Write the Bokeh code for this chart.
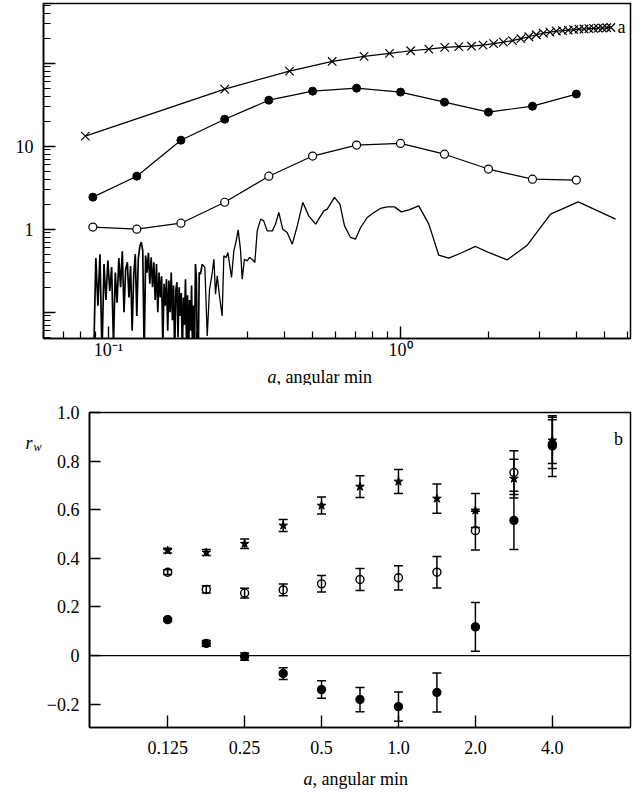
from bokeh.plotting import figure
from bokeh.layouts import column
from bokeh.models import (FixedTicker, Label, Whisker, TeeHead, ColumnDataSource,
                          Span, Range1d)
from bokeh.core.properties import value
from bokeh.embed import file_html
from bokeh.resources import INLINE

FONT = "Liberation Serif"

# ---------------- Panel a data ----------------
a_x = [0.0884, 0.125, 0.177, 0.25, 0.354, 0.5, 0.707, 1.0, 1.414, 2.0, 2.83, 4.0]
filled_a = [2.43, 4.35, 11.8, 21.1, 35.8, 46.0, 50.0, 44.8, 33.9, 25.7, 30.3, 42.4]
open_a = [1.06, 1.0, 1.18, 2.11, 4.35, 7.6, 10.3, 10.8, 8.0, 5.3, 4.0, 3.9]

cross_x = [0.0833, 0.25, 0.4167, 0.5833, 0.75, 0.9167, 1.0833, 1.25, 1.4167, 1.5833,
           1.75, 1.9167, 2.0833, 2.25, 2.4167, 2.5833, 2.75, 2.9167, 3.0833, 3.25,
           3.4167, 3.5833, 3.75, 3.9167, 4.0833, 4.25, 4.4167, 4.5833, 4.75, 4.9167,
           5.0833, 5.25]
cross_y = [13.2, 48.6, 80.2, 104.8, 120.5, 131, 141, 147.5, 154.7, 158,
           160, 165, 172, 179, 187, 197, 208, 220, 230, 236,
           243, 246, 250, 253, 257, 258, 261, 262, 264, 265,
           267, 269]

noise_x = [0.0890, 0.0905, 0.0920, 0.0935, 0.0950, 0.0965, 0.0980, 0.0995, 0.1010, 0.1025,
           0.1040, 0.1055, 0.1070, 0.1085, 0.1100, 0.1115, 0.1130, 0.1145, 0.1160, 0.1175,
           0.1190, 0.1205, 0.1220, 0.1235, 0.1250, 0.1265, 0.1280, 0.1295, 0.1310, 0.1325,
           0.1340, 0.1355, 0.1370, 0.1385, 0.1400, 0.1415, 0.1430, 0.1445, 0.1460, 0.1475,
           0.1490, 0.1505, 0.1520, 0.1535, 0.1550, 0.1565, 0.1580, 0.1595, 0.1610, 0.1625,
           0.1640, 0.1655, 0.1670, 0.1685, 0.1700, 0.1715, 0.1730, 0.1745, 0.1760, 0.1775,
           0.1790, 0.1805, 0.1820, 0.1835, 0.1850, 0.1865, 0.1880, 0.1895, 0.1910, 0.1925,
           0.1940, 0.1955, 0.1970, 0.1985, 0.2000, 0.2015, 0.2030, 0.2045,
           0.2065, 0.2094, 0.2138, 0.2178, 0.2218, 0.2254, 0.2296, 0.2325, 0.2357, 0.2399,
           0.2450, 0.2483, 0.2530, 0.2564, 0.2638, 0.2687, 0.2737, 0.2780, 0.2830, 0.2870,
           0.2920, 0.2985, 0.3040, 0.3105, 0.3170, 0.3230, 0.3320, 0.3400, 0.3495, 0.3640,
           0.3730, 0.3830, 0.3950, 0.4090, 0.4260, 0.4430, 0.4630, 0.4850, 0.5120, 0.5460,
           0.5610, 0.5940, 0.6200, 0.6430, 0.6740, 0.7010, 0.7300, 0.7690, 0.8100, 0.8540,
           0.9010, 0.9540, 1.006, 1.068, 1.155, 1.250, 1.352, 1.463, 1.626, 1.806,
           1.981, 2.319, 2.716, 3.264, 4.060, 5.450]
noise_y = [0.03, 0.45, 0.12, 0.50, 0.03, 0.38, 0.14, 0.42, 0.18, 0.35,
           0.04, 0.30, 0.13, 0.45, 0.20, 0.54, 0.10, 0.33, 0.40, 0.15,
           0.36, 0.06, 0.28, 0.50, 0.09, 0.44, 0.62, 0.70, 0.55, 0.03,
           0.48, 0.30, 0.52, 0.22, 0.46, 0.20, 0.40, 0.14, 0.38, 0.10,
           0.30, 0.15, 0.27, 0.04, 0.22, 0.12, 0.25, 0.06, 0.24, 0.10,
           0.30, 0.08, 0.21, 0.03, 0.18, 0.23, 0.05, 0.20, 0.09, 0.17,
           0.03, 0.15, 0.07, 0.25, 0.04, 0.16, 0.03, 0.14, 0.06, 0.21,
           0.03, 0.12, 0.03, 0.38, 0.25, 0.03, 0.03, 0.30,
           0.287, 0.379, 0.346, 0.0518, 0.189, 0.262, 0.435, 0.165, 0.274, 0.157,
           0.090, 0.477, 0.456, 0.524, 0.262, 0.548, 0.723, 0.98, 0.574, 0.25,
           0.435, 0.415, 0.456, 0.435, 0.397, 0.954, 1.32, 1.26, 0.954, 0.954,
           1.149, 1.589, 1.0, 0.912, 0.66, 1.096, 2.10, 1.446, 1.149, 1.66,
           1.74, 2.41, 2.0, 1.096, 0.794, 0.758, 1.048, 1.383, 1.589, 1.775,
           1.857, 1.857, 1.616, 1.708, 1.909, 1.149, 0.486, 0.447, 0.524, 0.619,
           0.533, 0.427, 0.642, 1.516, 2.13, 1.32]
NOISY_END = 80  # the dense, noisy stretch of the curve is drawn a little heavier

# ---------------- Panel b data ----------------
b_x = [0.125, 0.177, 0.25, 0.354, 0.5, 0.707, 1.0, 1.414, 2.0, 2.83, 4.0]
b_tick_labels = ["0.125", "0.25", "0.5", "1.0", "2.0", "4.0"]
star_r = [0.432, 0.424, 0.46, 0.535, 0.617, 0.695, 0.716, 0.646, 0.597, 0.728, 0.885]
star_err = [0.01, 0.012, 0.02, 0.025, 0.035, 0.045, 0.049, 0.06, 0.07, 0.08, 0.095]
open_r = [0.343, 0.272, 0.257, 0.27, 0.295, 0.313, 0.32, 0.343, 0.514, 0.753, 0.87]
open_err = [0.01, 0.015, 0.02, 0.024, 0.034, 0.045, 0.05, 0.065, 0.08, 0.09, 0.1]
filled_r = [0.148, 0.05, -0.004, -0.074, -0.14, -0.181, -0.21, -0.152, 0.118, 0.556, 0.862]
filled_err = [0.008, 0.012, 0.015, 0.024, 0.036, 0.05, 0.06, 0.08, 0.1, 0.12, 0.125]


def style_axis(ax, major_in=12, minor_in=7, size="18px", standoff=6):
    ax.major_tick_in = major_in
    ax.major_tick_out = 0
    ax.minor_tick_in = minor_in
    ax.minor_tick_out = 0
    ax.axis_line_width = 1.6
    ax.axis_line_color = "black"
    ax.major_tick_line_width = 1.4
    ax.minor_tick_line_width = 1.2
    ax.major_tick_line_color = "black"
    ax.minor_tick_line_color = "black"
    ax.major_label_text_font = FONT
    ax.major_label_text_font_size = size
    ax.major_label_text_color = "black"
    ax.major_label_standoff = standoff


def no_align(p):
    try:
        p.frame_align = False
    except Exception:
        pass


def text_strip(h):
    t = figure(width=643, height=h, x_range=Range1d(0, 643), y_range=Range1d(h, 0),
               output_backend="svg", toolbar_location=None,
               x_axis_location=None, y_axis_location=None,
               min_border_left=0, min_border_right=0, min_border_top=0,
               min_border_bottom=0)
    t.xgrid.visible = False
    t.ygrid.visible = False
    t.outline_line_color = None
    t.background_fill_color = "white"
    t.border_fill_color = "white"
    no_align(t)
    return t


def strip_text(t, x, y, text, style="normal", size="18px"):
    t.text(x=[x], y=[y], text=[text], text_font=value(FONT), text_font_size=size,
           text_font_style=style, text_align="left", text_baseline="alphabetic",
           text_color="black")


# ================= Panel a =================
p1 = figure(width=643, height=362, x_axis_type="log", y_axis_type="log",
            x_range=Range1d(0.0599, 6.13), y_range=Range1d(0.0482, 523),
            output_backend="svg", toolbar_location=None,
            min_border_left=43, min_border_right=13, min_border_top=3,
            min_border_bottom=22)
no_align(p1)
p1.xgrid.visible = False
p1.ygrid.visible = False
p1.outline_line_color = "black"
p1.outline_line_width = 1.5
p1.background_fill_color = "white"
p1.border_fill_color = "white"

x_minor = [m * 10.0 ** e for e in (-2, -1, 0) for m in range(2, 10)]
y_minor = [m * 10.0 ** e for e in (-2, -1, 0, 1, 2) for m in range(2, 10)]
p1.xaxis.ticker = FixedTicker(ticks=[0.1, 1.0], minor_ticks=x_minor)
p1.yaxis.ticker = FixedTicker(ticks=[0.1, 1.0, 10.0, 100.0], minor_ticks=y_minor)
p1.xaxis.major_label_overrides = {0.1: "10\u207b\u00b9", 1.0: "10\u2070"}
p1.yaxis.major_label_overrides = {0.1: "", 1.0: "1", 10.0: "10", 100.0: ""}
style_axis(p1.xaxis[0], standoff=1)
style_axis(p1.yaxis[0], standoff=10)

p1.line(noise_x[:NOISY_END], noise_y[:NOISY_END], line_color="black", line_width=1.7)
p1.line(noise_x[NOISY_END - 1:], noise_y[NOISY_END - 1:], line_color="black",
        line_width=1.3)
p1.line(cross_x, cross_y, line_color="black", line_width=1.2)
p1.scatter(cross_x, cross_y, marker="x", size=12, line_color="black", line_width=1.2)
p1.line(a_x, filled_a, line_color="black", line_width=1.2)
p1.scatter(a_x, filled_a, marker="circle", size=8, fill_color="black", line_color="black")
p1.line(a_x, open_a, line_color="black", line_width=1.2)
p1.scatter(a_x, open_a, marker="circle", size=8, fill_color="white", line_color="black",
           line_width=1.2)

p1.add_layout(Label(x=574, y=312, x_units="screen", y_units="screen", text="a",
                    text_font=FONT, text_font_size="18px", text_color="black",
                    text_align="left", text_baseline="alphabetic"))

t1 = text_strip(23)
strip_text(t1, 267, 14, "a", style="italic")
strip_text(t1, 276, 14, ", angular min")

# ================= Panel b =================
p2 = figure(width=643, height=377, x_axis_type="log",
            x_range=Range1d(0.0618, 8.09), y_range=Range1d(-0.296, 1.0),
            output_backend="svg", toolbar_location=None,
            min_border_left=89, min_border_right=13, min_border_top=27,
            min_border_bottom=35)
no_align(p2)
p2.xgrid.visible = False
p2.ygrid.visible = False
p2.outline_line_color = "black"
p2.outline_line_width = 1.5
p2.background_fill_color = "white"
p2.border_fill_color = "white"

x_ticks_b = [0.125, 0.25, 0.5, 1.0, 2.0, 4.0]
p2.xaxis.ticker = FixedTicker(ticks=x_ticks_b, minor_ticks=[])
p2.xaxis.major_label_overrides = dict(zip(x_ticks_b, b_tick_labels))
y_ticks_b = [-0.2, 0.0, 0.2, 0.4, 0.6, 0.8, 1.0]
p2.yaxis.ticker = FixedTicker(ticks=y_ticks_b, minor_ticks=[])
p2.yaxis.major_label_overrides = {-0.2: "\u22120.2", 0.0: "0", 0.2: "0.2", 0.4: "0.4",
                                  0.6: "0.6", 0.8: "0.8", 1.0: "1.0"}
style_axis(p2.xaxis[0], major_in=12, standoff=13)
style_axis(p2.yaxis[0], major_in=11, standoff=10)

p2.add_layout(Span(location=0, dimension="width", line_color="black", line_width=1.2))


def err_series(p, ys, errs, marker, size, fill, lw=1.4):
    src = ColumnDataSource(dict(x=b_x, y=ys,
                                lo=[v - e for v, e in zip(ys, errs)],
                                hi=[v + e for v, e in zip(ys, errs)]))
    w = Whisker(base="x", lower="lo", upper="hi", source=src, line_width=1.5,
                line_color="black",
                lower_head=TeeHead(size=9, line_width=1.5, line_color="black"),
                upper_head=TeeHead(size=9, line_width=1.5, line_color="black"))
    p.add_layout(w)
    p.scatter("x", "y", source=src, marker=marker, size=size, fill_color=fill,
              fill_alpha=1.0 if fill else 0.0, line_color="black", line_width=lw)


err_series(p2, star_r, star_err, "star", 9, "black", lw=1.0)
err_series(p2, open_r, open_err, "circle", 8, None)
err_series(p2, filled_r, filled_err, "circle", 8, "black")

p2.add_layout(Label(x=529, y=289, x_units="screen", y_units="screen", text="b",
                    text_font=FONT, text_font_size="18px", text_color="black",
                    text_align="center", text_baseline="alphabetic"))
# r_w label placed in the left side panel (outside the frame)
p2.add_layout(Label(x=-2, y=281, x_units="screen", y_units="screen", text="w",
                    text_font=FONT, text_font_size="12px", text_font_style="italic",
                    text_color="black", text_align="left",
                    text_baseline="alphabetic"), "left")
p2.add_layout(Label(x=-3, y=285, x_units="screen", y_units="screen", text="r",
                    text_font=FONT, text_font_size="18px", text_font_style="italic",
                    text_color="black", text_align="left",
                    text_baseline="alphabetic"), "left")

t2 = text_strip(30)
strip_text(t2, 303, 16, "a", style="italic")
strip_text(t2, 312, 16, ", angular min")

layout = column(p1, t1, p2, t2)
open("out.html", "w").write(file_html(layout, INLINE))
